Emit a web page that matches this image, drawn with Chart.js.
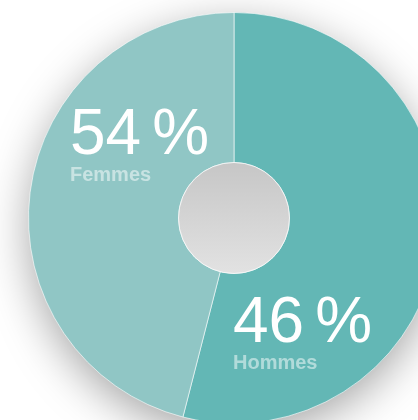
<!DOCTYPE html>
<html lang="fr">
<head>
<meta charset="utf-8">
<title>Répartition Femmes / Hommes</title>
<script src="https://cdn.jsdelivr.net/npm/chart.js@4.4.1/dist/chart.umd.min.js"></script>
<style>
  html, body { margin: 0; padding: 0; background: #fff; overflow: hidden; }
  #wrap { position: absolute; left: 0; top: 0; width: 480px; height: 480px; }
</style>
</head>
<body>
<div id="wrap"><canvas id="donut" width="480" height="480"></canvas></div>
<script>
// data, in drawing order (clockwise from the top)
const categories = ['Femmes', 'Hommes'];
const values = [54, 46];

// shadow under the ring, grey hole in the middle, big labels
const donutDecor = {
  id: 'donutDecor',
  beforeDatasetsDraw(chart) {
    const arc = chart.getDatasetMeta(0).data[0];
    if (!arc) return;
    const { x, y, outerRadius } = arc.getProps(['x', 'y', 'outerRadius'], true);
    const ctx = chart.ctx;
    ctx.save();
    ctx.shadowColor = 'rgba(0, 0, 0, 0.36)';
    ctx.shadowBlur = 45;
    ctx.shadowOffsetY = 12;
    ctx.beginPath();
    ctx.arc(x, y, outerRadius - 1, 0, Math.PI * 2);
    ctx.fillStyle = '#90c6c5';
    ctx.fill();
    ctx.restore();
  },
  afterDatasetsDraw(chart) {
    const arc = chart.getDatasetMeta(0).data[0];
    if (!arc) return;
    const { x, y, innerRadius } = arc.getProps(['x', 'y', 'innerRadius'], true);
    const ctx = chart.ctx;

    // hole
    ctx.save();
    const grad = ctx.createLinearGradient(0, y - innerRadius, 0, y + innerRadius);
    grad.addColorStop(0, '#c6c6c6');
    grad.addColorStop(1, '#e2e2e2');
    ctx.beginPath();
    ctx.arc(x, y, innerRadius, 0, Math.PI * 2);
    ctx.fillStyle = grad;
    ctx.fill();
    ctx.lineWidth = 1;
    ctx.strokeStyle = 'rgba(255, 255, 255, 0.75)';
    ctx.stroke();
    ctx.restore();

    // labels (offsets from the centre)
    const anchors = [{ dx: -164, dy: -64 }, { dx: -1, dy: 124 }];
    ctx.save();
    ctx.textAlign = 'left';
    ctx.textBaseline = 'alphabetic';
    values.forEach((v, i) => {
      const a = anchors[i];
      const lx = x + a.dx, ly = y + a.dy;
      ctx.fillStyle = '#ffffff';
      ctx.font = '64px "Liberation Sans", Arial, sans-serif';
      const num = String(v);
      ctx.fillText(num, lx, ly);
      ctx.fillText('%', lx + ctx.measureText(num).width + 11, ly);
      ctx.fillStyle = 'rgba(255, 255, 255, 0.5)';
      ctx.font = 'bold 20px "Liberation Sans", Arial, sans-serif';
      ctx.fillText(categories[i], lx, ly + 27);
    });
    ctx.restore();
  }
};

new Chart(document.getElementById('donut'), {
  type: 'doughnut',
  data: {
    labels: categories,
    datasets: [{
      data: values,
      backgroundColor: ['#63b7b5', '#90c6c5'],
      borderColor: 'rgba(255, 255, 255, 0.6)',
      borderWidth: 1
    }]
  },
  options: {
    responsive: false,
    animation: false,
    events: [],
    cutout: '27%',
    layout: { padding: { left: 28, top: 12, right: 40, bottom: 56 } },
    plugins: {
      legend: { display: false },
      tooltip: { enabled: false }
    }
  },
  plugins: [donutDecor]
});
</script>
</body>
</html>
